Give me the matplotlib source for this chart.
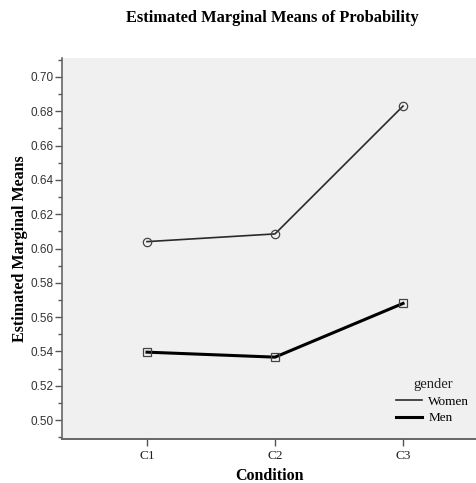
import matplotlib
matplotlib.use("Agg")
import matplotlib.pyplot as plt
from matplotlib.ticker import MultipleLocator, FormatStrFormatter

conditions = ["C1", "C2", "C3"]
women = [0.604, 0.6085, 0.683]
men = [0.5396, 0.5367, 0.568]

fig = plt.figure(figsize=(4.77, 4.83), dpi=100)
ax = fig.add_axes([62/477, 44/483, 414/477, 381/483])
ax.set_facecolor("#f0f0f0")
x = list(range(len(conditions)))
ax.plot(x, women, color="#2a2a2a", lw=1.2, marker="o", ms=6, mfc="none", mec="#444444", mew=0.9, label="Women")
ax.plot(x, men, color="#000000", lw=2.2, marker="s", ms=6, mfc="none", mec="#444444", mew=0.9, label="Men")

ax.set_xlim(-0.664, 2.57)
ax.set_ylim(0.489, 0.711)
ax.set_xticks(x)
ax.set_xticklabels(conditions, family="Liberation Serif", fontsize=9.5, color="#222222")
ax.yaxis.set_major_locator(MultipleLocator(0.02))
ax.yaxis.set_minor_locator(MultipleLocator(0.01))
ax.yaxis.set_major_formatter(FormatStrFormatter("%.2f"))
for lab in ax.get_yticklabels():
    lab.set_family("Liberation Sans")
    lab.set_fontsize(8.5)
    lab.set_color("#333333")
ax.tick_params(axis="y", which="major", length=5, width=1, color="#555555", pad=1)
ax.tick_params(axis="y", which="minor", length=3, width=1, color="#555555")
ax.tick_params(axis="x", which="major", length=5, width=1, color="#555555", pad=3)
for s in ["top", "right"]:
    ax.spines[s].set_visible(False)
ax.spines["left"].set_color("#666666")
ax.spines["bottom"].set_color("#666666")
ax.spines["left"].set_linewidth(1.2)
ax.spines["bottom"].set_linewidth(1.4)

ax.set_xlabel("Condition", family="Liberation Serif", fontweight="bold", fontsize=11.5, labelpad=4.5)
ax.set_ylabel("Estimated Marginal Means", family="Liberation Serif", fontweight="bold", fontsize=11.5, labelpad=2)
fig.text(272/477, 1 - 18/483, "Estimated Marginal Means of Probability", family="Liberation Serif",
         fontweight="bold", fontsize=11.8, ha="center", va="center")

leg = ax.legend(title="gender", loc="lower right", bbox_to_anchor=(1.019, 0.0), frameon=False,
                prop={"family": "Liberation Serif", "size": 9.5}, handlelength=2.0, handletextpad=0.45,
                labelspacing=0.35, borderpad=0.6)
leg.get_title().set_family("Liberation Serif")
leg.get_title().set_fontsize(10.5)
leg.get_title().set_color("#222222")
for h in leg.legend_handles:
    h.set_marker("")

fig.savefig("out.png", dpi=100)
